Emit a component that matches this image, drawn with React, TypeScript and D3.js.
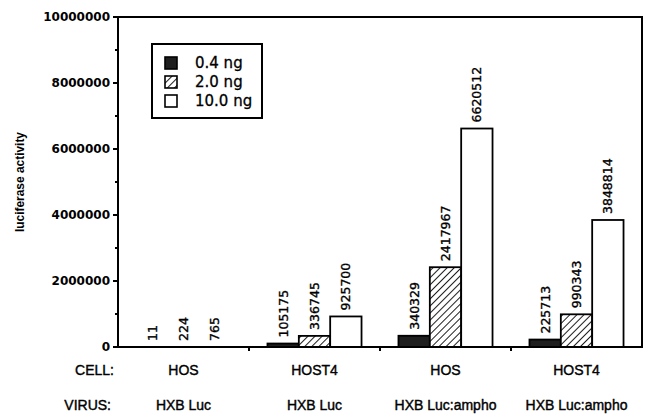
import React from "react";
import * as d3 from "d3";

const cells = ["HOS", "HOST4", "HOS", "HOST4"];
const viruses = ["HXB Luc", "HXB Luc", "HXB Luc:ampho", "HXB Luc:ampho"];
const doses = ["0.4 ng", "2.0 ng", "10.0 ng"];
const values04 = [11, 105175, 340329, 225713];
const values20 = [224, 336745, 2417967, 990343];
const values100 = [765, 925700, 6620512, 3848814];
const yTicks = [0, 2000000, 4000000, 6000000, 8000000, 10000000];
const yMinorTicks = [1000000, 3000000, 5000000, 7000000, 9000000];

const W = 645, H = 414;
const left = 118, right = 642, top = 17, bottom = 347;

export default function App() {
  const groups = d3.range(cells.length);
  const series = [values04, values20, values100];
  const x0 = d3.scaleBand<number>().domain(groups).range([left, right]).paddingInner(0.282).paddingOuter(0.141);
  const x1 = d3.scaleBand<number>().domain(d3.range(doses.length)).range([0, x0.bandwidth()]);
  const y = d3.scaleLinear().domain([0, 10000000]).range([bottom, top]);
  const step = x0.step();
  const fills = ["#1e1e1e", "url(#hatch)", "#ffffff"];
  const font = "'DejaVu Sans', sans-serif";
  const lab = "'Liberation Sans', Arial, sans-serif";

  return (
    <svg width={W} height={H} style={{ position: "absolute", left: 0, top: 0, background: "#fff" }}>
      <defs>
        <pattern id="hatch" patternUnits="userSpaceOnUse" width="5" height="5" patternTransform="rotate(45)">
          <rect width="5" height="5" fill="#fff" />
          <line x1="0" y1="0" x2="0" y2="5" stroke="#111" strokeWidth="1.9" />
        </pattern>
      </defs>
      {/* bars */}
      {groups.map((g) =>
        series.map((vals, s) => {
          const bx = (x0(g) as number) + (x1(s) as number);
          const by = y(vals[g]);
          const bw = x1.bandwidth();
          return (
            <g key={`${g}-${s}`}>
              {vals[g] > 50000 && (
                <rect x={bx} y={by} width={bw} height={bottom - by} fill={fills[s]} stroke="#000" strokeWidth={1.8} />
              )}
              <text
                transform={`translate(${bx + bw / 2},${by - 6}) rotate(-90)`}
                dy="0.36em"
                fontFamily={font}
                fontSize={12.5}
                fill="#000"
                stroke="#000"
                strokeWidth={0.35}
              >
                {String(vals[g])}
              </text>
            </g>
          );
        })
      )}
      {/* frame */}
      <rect x={left} y={top} width={right - left} height={bottom - top} fill="none" stroke="#000" strokeWidth={2} />
      {/* y ticks */}
      {yTicks.map((t) => (
        <g key={t}>
          <line x1={left - 5} x2={left} y1={y(t)} y2={y(t)} stroke="#000" strokeWidth={2} />
          <text x={left - 8} y={y(t)} dy="0.36em" textAnchor="end" fontFamily={font} fontWeight="bold" fontSize={12}>
            {String(t)}
          </text>
        </g>
      ))}
      {yMinorTicks.map((t) => (
        <line key={t} x1={left - 3} x2={left} y1={y(t)} y2={y(t)} stroke="#000" strokeWidth={2} />
      ))}
      {/* x ticks at group boundaries */}
      {groups.slice(1).map((g) => (
        <line key={g} x1={left + g * step} x2={left + g * step} y1={bottom} y2={bottom + 4} stroke="#000" strokeWidth={2} />
      ))}
      {/* category labels */}
      <g stroke="#000" strokeWidth={0.4} fontFamily={lab} fontSize={14}>
        <text x={114} y={370} dy="0.36em" textAnchor="end">CELL:</text>
        <text x={111} y={405} dy="0.36em" textAnchor="end">VIRUS:</text>
        {groups.map((g) => (
          <g key={g}>
            <text x={left + (g + 0.5) * step} y={370} dy="0.36em" textAnchor="middle">
              {cells[g]}
            </text>
            <text x={left + (g + 0.5) * step} y={405} dy="0.36em" textAnchor="middle">
              {viruses[g]}
            </text>
          </g>
        ))}
      </g>
      {/* y label */}
      <text transform={`translate(20,182) rotate(-90)`} dy="0.36em" textAnchor="middle" fontFamily={lab} fontWeight="bold" fontSize={12}
        textLength={100} lengthAdjust="spacingAndGlyphs">
        luciferase activity
      </text>
      {/* legend */}
      <rect x={152} y={44} width={110} height={74} fill="#fff" stroke="#000" strokeWidth={2} />
      {doses.map((d, i) => (
        <g key={d}>
          <rect x={165} y={57 + i * 19} width={12} height={12} fill={fills[i]} stroke="#000" strokeWidth={1.6} />
          <text x={195} y={63 + i * 19} dy="0.36em" fontFamily={font} fontSize={15} stroke="#000" strokeWidth={0.3}>
            {d}
          </text>
        </g>
      ))}
    </svg>
  );
}
